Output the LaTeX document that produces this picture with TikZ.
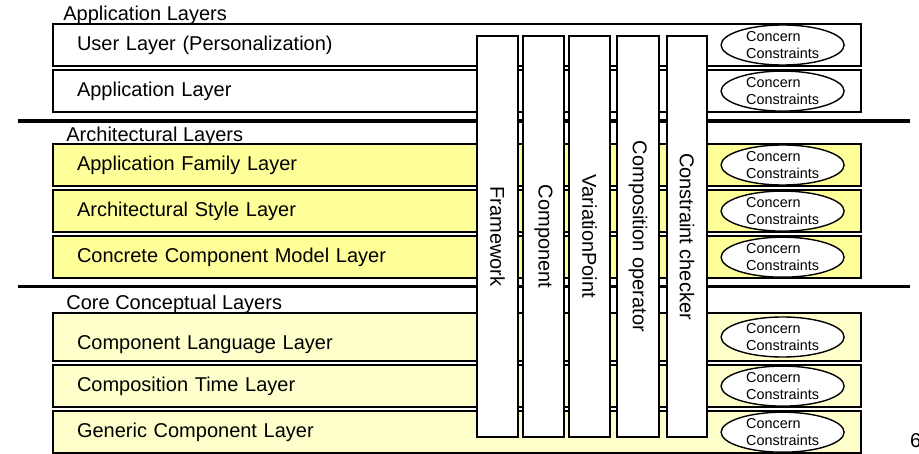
\documentclass[tikz,border=0pt]{standalone}
\usepackage{fontspec}
\setmainfont{Liberation Sans}
\usepackage{xcolor}
\usepackage{tikz}
\usetikzlibrary{positioning,shapes.geometric}

\definecolor{archyellow}{HTML}{FFFF99}
\definecolor{coreyellow}{HTML}{FFFFCC}

\begin{document}
\begin{tikzpicture}[
  x=1pt, y=-1pt,
  font=\fontsize{20}{24}\selectfont,
  node distance=2.5pt,
  layer/.style={draw, line width=1.6pt, minimum width=808pt, minimum height=42pt, text width=760pt, inner xsep=24pt, inner ysep=0pt, align=left},
  applayer/.style={layer, fill=white},
  archlayer/.style={layer, fill=archyellow},
  corelayer/.style={layer, fill=coreyellow},
  group/.style={anchor=base west, inner sep=0pt},
  sepline/.style={line width=3.6pt},
  bar/.style={draw, line width=1.6pt, fill=white, rotate=-90, minimum width=401pt, minimum height=41pt, inner sep=0pt},
  concern/.style={ellipse, draw, line width=1.4pt, fill=white, minimum width=123pt, minimum height=40pt, inner xsep=0pt, inner ysep=-2pt, align=left, font=\fontsize{14.4}{17}\selectfont},
]
\useasboundingbox (0,0) rectangle (919,454);

% layer stack
\node[applayer] (user) at (457,45) {User Layer (Personalization)};
\node[applayer, below=of user] (app) {Application Layer};
\node[archlayer] (appfam) at (457,165) {Application Family Layer};
\node[archlayer, below=of appfam] (archstyle) {Architectural Style Layer};
\node[archlayer, below=of archstyle] (concrete) {Concrete Component Model Layer};
\node[corelayer, minimum height=48pt, text height=26pt, text depth=0pt] (complang) at (457,337) {Component Language Layer};
\node[corelayer, below=of complang] (comptime) {Composition Time Layer};
\node[corelayer, below=of comptime] (generic) {Generic Component Layer};

\node[group] (appgrp) at ([xshift=11pt,yshift=3pt]user.north west) {Application Layers};
\node[group] (archgrp) at ([xshift=14pt,yshift=2pt]appfam.north west) {Architectural Layers};
\node[group] (coregrp) at ([xshift=14pt,yshift=3pt]complang.north west) {Core Conceptual Layers};

\draw[sepline] (18,121) -- (910,121);
\draw[sepline] (18,286.5) -- (910,286.5);

% crosscutting concerns
\node[bar] (fw) at (497.5,236.5) {Framework};
\node[bar] (comp) at (543.5,236.5) {Component};
\node[bar] (vp) at (589.5,236.5) {VariationPoint};
\node[bar, minimum height=42pt] (compop) at (638,236.5) {Composition operator};
\node[bar, minimum height=40pt] (checker) at (687,236.5) {Constraint checker};

\node[concern, left=17pt of user.east] (cuser) {Concern\\Constraints};
\node[concern, left=17pt of app.east] (capp) {Concern\\Constraints};
\node[concern, left=17pt of appfam.east] (cappfam) {Concern\\Constraints};
\node[concern, left=17pt of archstyle.east] (carchstyle) {Concern\\Constraints};
\node[concern, left=17pt of concrete.east] (cconcrete) {Concern\\Constraints};
\node[concern, left=17pt of complang.east] (ccomplang) {Concern\\Constraints};
\node[concern, left=17pt of comptime.east] (ccomptime) {Concern\\Constraints};
\node[concern, left=17pt of generic.east] (cgeneric) {Concern\\Constraints};

\node[group] (pagenum) at (910,447) {6};
\end{tikzpicture}
\end{document}
